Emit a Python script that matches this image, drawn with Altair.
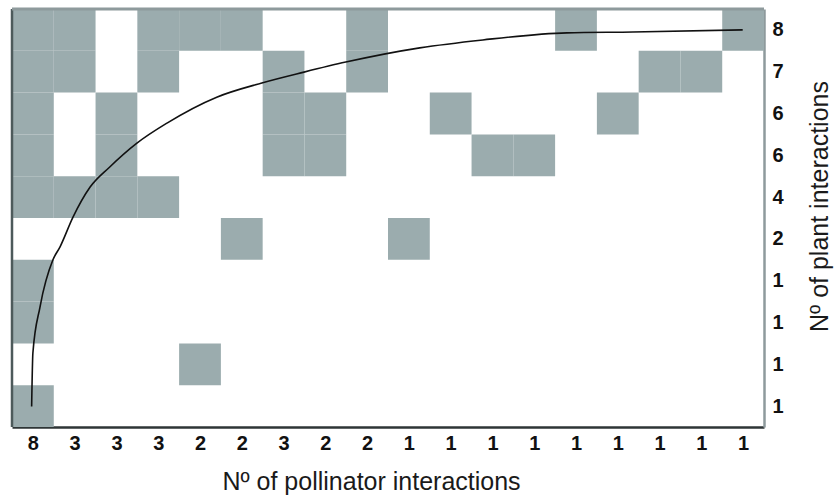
import altair as alt
import pandas as pd

# Column (pollinator) degrees, left to right
pollinator_degree = [8, 3, 3, 3, 2, 2, 3, 2, 2, 1, 1, 1, 1, 1, 1, 1, 1, 1]
# Row (plant) degrees, top to bottom
plant_degree = [8, 7, 6, 6, 4, 2, 1, 1, 1, 1]
# Filled columns (1-based) for each row, top to bottom
filled_cols = [
    [1, 2, 4, 5, 6, 9, 14, 18],
    [1, 2, 4, 7, 9, 16, 17],
    [1, 3, 7, 8, 11, 15],
    [1, 3, 7, 8, 12, 13],
    [1, 2, 3, 4],
    [6, 10],
    [1],
    [1],
    [5],
    [1],
]
# Isocline curve (column units, row units from bottom)
iso_x = [0.47, 0.50, 0.67, 0.98, 1.15, 1.46, 1.87, 2.34, 2.99, 3.71, 4.90,
         5.98, 6.99, 7.99, 9.76, 11.27, 13.28, 14.86, 17.49]
iso_y = [0.49, 1.77, 2.87, 4.00, 4.31, 5.02, 5.74, 6.22, 6.79, 7.27, 7.89,
         8.23, 8.49, 8.73, 9.07, 9.26, 9.43, 9.45, 9.50]

ncol = len(pollinator_degree)
nrow = len(plant_degree)

cells = []
for r, cols in enumerate(filled_cols):
    for c in cols:
        cells.append({"x0": c - 1, "x1": c, "y0": nrow - r - 1, "y1": nrow - r})
cells_df = pd.DataFrame(cells)
iso_df = pd.DataFrame({"x": iso_x, "y": iso_y, "order": list(range(len(iso_x)))})

FONT = "Liberation Sans"
xscale = alt.Scale(domain=[0, ncol], nice=False, zero=False)
yscale = alt.Scale(domain=[0, nrow], nice=False, zero=False)

xlabels = "[" + ",".join("'%d'" % v for v in pollinator_degree) + "]"
ylabels = "[" + ",".join("'%d'" % v for v in plant_degree) + "]"

x_axis = alt.Axis(
    values=[i + 0.5 for i in range(ncol)],
    labelExpr=f"{xlabels}[floor(datum.value)]",
    ticks=False, grid=False,
    domainColor="#2e3536", domainWidth=2.5,
    labelFont=FONT, labelFontSize=20, labelFontWeight="bold", labelColor="#111",
    labelPadding=6,
    title="Nº of pollinator interactions",
    titleFont=FONT, titleFontSize=25, titleFontWeight="normal", titleColor="#1a1a1a",
    titleX=359, titleY=62, titleAlign="center", titleBaseline="alphabetic",
)
y_axis = alt.Axis(
    orient="right",
    values=[i + 0.5 for i in range(nrow)],
    labelExpr=f"{ylabels}[{nrow - 1} - floor(datum.value)]",
    ticks=False, grid=False,
    domainColor="#8e9a9c", domainWidth=2.5,
    labelFont=FONT, labelFontSize=20, labelFontWeight="bold", labelColor="#111",
    labelPadding=8, labelAlign="left",
    title="Nº of plant interactions",
    titleFont=FONT, titleFontSize=25, titleFontWeight="normal", titleColor="#1a1a1a",
    titleAngle=270, titleX=63, titleY=197, titleAlign="center", titleBaseline="alphabetic",
)

rects = alt.Chart(cells_df).mark_rect(color="#9bacae", stroke=None).encode(
    x=alt.X("x0:Q", scale=xscale, axis=x_axis),
    x2="x1:Q",
    y=alt.Y("y0:Q", scale=yscale, axis=y_axis),
    y2="y1:Q",
)

curve = alt.Chart(iso_df).mark_line(color="#111", strokeWidth=1.6, interpolate="monotone").encode(
    x=alt.X("x:Q", scale=xscale),
    y=alt.Y("y:Q", scale=yscale),
    order="order:Q",
)

left_edge = alt.Chart(pd.DataFrame({"a": [0]})).mark_rule(color="#4d5a5b", strokeWidth=2.5).encode(
    x=alt.value(0), y=alt.value(0), y2=alt.value(418)
)
top_edge = alt.Chart(pd.DataFrame({"a": [0]})).mark_rule(color="#8e9a9c", strokeWidth=3).encode(
    x=alt.value(0), x2=alt.value(752), y=alt.value(0)
)

chart = alt.layer(rects, curve, left_edge, top_edge).properties(
    width=752, height=418,
    padding={"left": 12, "top": 9, "right": 70, "bottom": 70},
    autosize=alt.AutoSizeParams(type="none"),
    background="white",
).configure_view(stroke=None)

chart.save("out.html", embed_options={"renderer": "svg", "actions": False})
